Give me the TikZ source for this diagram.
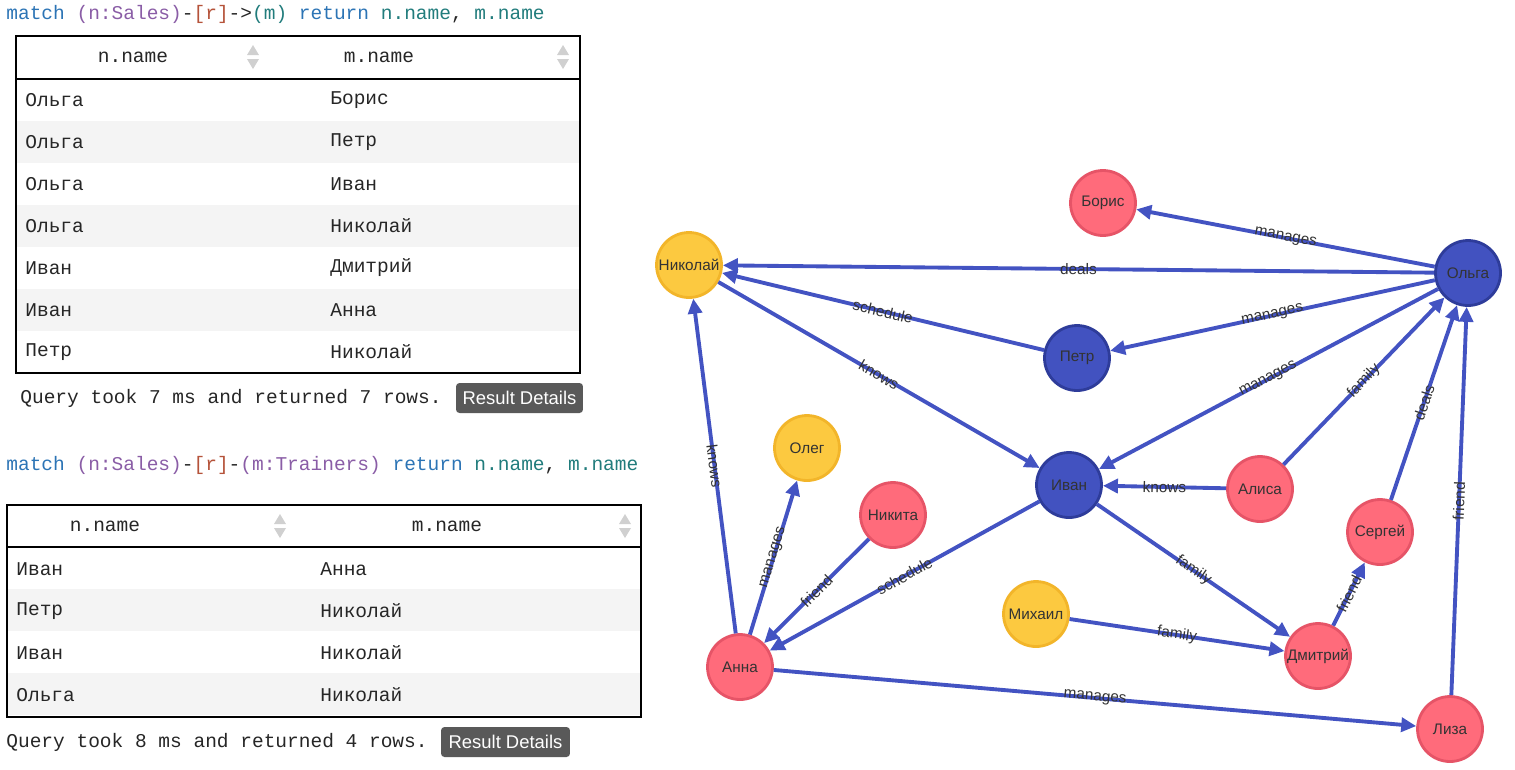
\documentclass[tikz,border=0pt]{standalone}
\usepackage{fontspec}
\setmainfont{Liberation Sans}
\newfontfamily\codefont{Liberation Mono}
\usetikzlibrary{arrows.meta}
\definecolor{edgeblue}{HTML}{4353C2}
\definecolor{bluefill}{HTML}{4252C0}
\definecolor{blueline}{HTML}{2E3C9A}
\definecolor{redfill}{HTML}{FF6B7B}
\definecolor{redline}{HTML}{E65467}
\definecolor{yelfill}{HTML}{FCC940}
\definecolor{yelline}{HTML}{F2B52A}
\definecolor{kwblue}{HTML}{2C74B5}
\definecolor{kwpurple}{HTML}{8A5DA6}
\definecolor{kwred}{HTML}{B5533A}
\definecolor{kwteal}{HTML}{217C7C}
\definecolor{rowgray}{HTML}{F4F4F4}
\definecolor{iconGray}{HTML}{D0D0D0}
\tikzset{
  person/.style={circle,minimum size=1.3cm,line width=1.6pt,inner sep=0pt,
    font=\fontsize{8.7}{10}\selectfont,text=black!80},
  blue/.style={person,fill=bluefill,draw=blueline},
  red/.style={person,fill=redfill,draw=redline},
  yellow/.style={person,fill=yelfill,draw=yelline},
  rel/.style={draw=edgeblue,line width=2.2pt,-{Triangle[length=0.3cm,width=0.28cm]}},
  lbl/.style={sloped,font=\fontsize{8.7}{10}\selectfont,text=black!80,inner sep=0pt},
  cell/.style={anchor=west,font=\codefont\fontsize{11.1}{12}\selectfont,inner sep=0pt,text=black!85},
  head/.style={font=\codefont\fontsize{11.1}{12}\selectfont,inner sep=0pt,text=black!85},
  button/.style={fill=black!65,rounded corners=2pt,text=white,inner sep=0pt,
    minimum height=0.6cm,font=\fontsize{10.5}{12}\selectfont},
  query/.style={anchor=west,font=\codefont\fontsize{11.1}{12}\selectfont,inner sep=0pt,text=black!85}
}
\newcommand{\sorticon}[2]{%
  \fill[iconGray] (#1-6,#2-2) -- (#1+6,#2-2) -- (#1,#2-12) -- cycle;
  \fill[iconGray] (#1-6,#2+2) -- (#1+6,#2+2) -- (#1,#2+12) -- cycle;}
\begin{document}
\begin{tikzpicture}[x=0.02cm,y=-0.02cm]
  \useasboundingbox (0,0) rectangle (1515,769);

  % first query
  \node[query] (q1) at (6,14) {\textcolor{kwblue}{match} \textcolor{kwpurple}{(n:Sales)}-\textcolor{kwred}{[r]}->\textcolor{kwteal}{(m)} \textcolor{kwblue}{return} \textcolor{kwteal}{n.name}, \textcolor{kwteal}{m.name}};
  \foreach \r in {1,3,5}
    \fill[rowgray] (17,79+42*\r) rectangle (579,121+42*\r);
  \draw[line width=1.2pt] (16,36) rectangle (580,373);
  \draw[line width=0.8pt] (16,79) -- (580,79);
  \node[head] (h1a) at (133,57) {n.name};
  \node[head] (h1b) at (379,57) {m.name};
  \sorticon{253}{57}
  \sorticon{563}{57}
  \foreach \a/\b [count=\i from 0] in {Ольга/Борис,Ольга/Петр,Ольга/Иван,Ольга/Николай,Иван/Дмитрий,Иван/Анна,Петр/Николай}{
    \node[cell] (ta\i) at (25,100+42*\i) {\a};
    \node[cell] (tb\i) at (330,100+42*\i) {\b};
  }
  \node[query] (s1) at (20,398) {Query took 7 ms and returned 7 rows.};
  \node[button,minimum width=2.54cm] (b1) at (519.5,398) {Result Details};

  % second query
  \node[query] (q2) at (6,465) {\textcolor{kwblue}{match} \textcolor{kwpurple}{(n:Sales)}-\textcolor{kwred}{[r]}-\textcolor{kwpurple}{(m:Trainers)} \textcolor{kwblue}{return} \textcolor{kwteal}{n.name}, \textcolor{kwteal}{m.name}};
  \foreach \r in {1,3}
    \fill[rowgray] (8,547+42*\r) rectangle (640,589+42*\r);
  \draw[line width=1.2pt] (7,505) rectangle (641,717);
  \draw[line width=0.8pt] (7,547) -- (641,547);
  \node[head] (h2a) at (105,526) {n.name};
  \node[head] (h2b) at (447,526) {m.name};
  \sorticon{280}{526}
  \sorticon{625}{526}
  \foreach \a/\b [count=\i from 0] in {Иван/Анна,Петр/Николай,Иван/Николай,Ольга/Николай}{
    \node[cell] (tc\i) at (16,569+42*\i) {\a};
    \node[cell] (td\i) at (320,569+42*\i) {\b};
  }
  \node[query] (s2) at (6,742) {Query took 8 ms and returned 4 rows.};
  \node[button,minimum width=2.58cm] (b2) at (505.5,742) {Result Details};

  % graph
  \node[red] (boris) at (1103,203) {Борис};
  \node[yellow] (nikolay) at (689,265) {Николай};
  \node[blue] (olga) at (1468,273) {Ольга};
  \node[blue] (petr) at (1077,358) {Петр};
  \node[blue] (ivan) at (1069,485) {Иван};
  \node[yellow] (oleg) at (807,448) {Олег};
  \node[red] (nikita) at (893,515) {Никита};
  \node[red] (alisa) at (1260,489) {Алиса};
  \node[red] (sergey) at (1380,532) {Сергей};
  \node[yellow] (mikhail) at (1036,614) {Михаил};
  \node[red] (dmitry) at (1318,656) {Дмитрий};
  \node[red] (anna) at (740,667) {Анна};
  \node[red] (liza) at (1450,729) {Лиза};

  \foreach \s/\t/\l in {olga/boris/manages, olga/nikolay/deals, olga/petr/manages,
      olga/ivan/manages, petr/nikolay/schedule, nikolay/ivan/knows,
      alisa/olga/family, sergey/olga/deals, liza/olga/friend, alisa/ivan/knows,
      ivan/dmitry/family, mikhail/dmitry/family, dmitry/sergey/friend,
      ivan/anna/schedule, anna/nikolay/knows, anna/oleg/manages,
      nikita/anna/friend, anna/liza/manages}
    \draw[rel] (\s) -- node[lbl] {\l} (\t);
\end{tikzpicture}
\end{document}
